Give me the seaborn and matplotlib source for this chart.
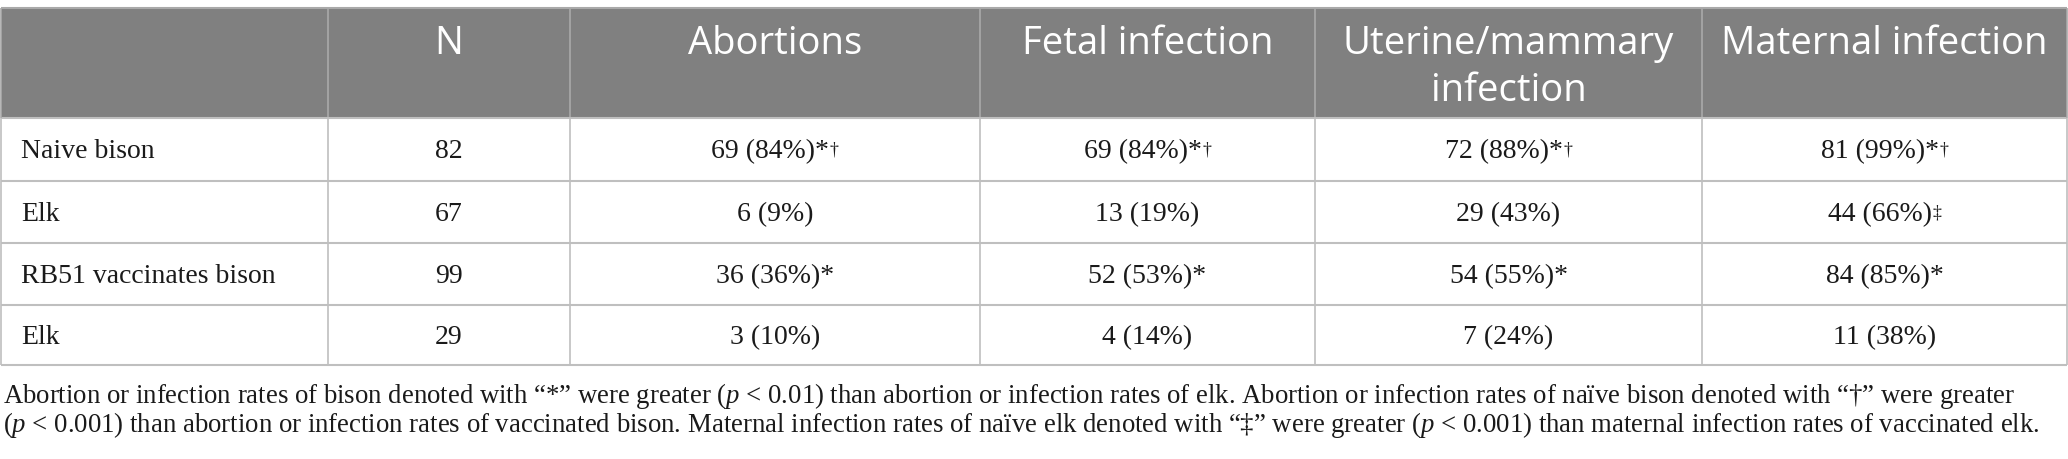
import matplotlib
matplotlib.use("Agg")
import matplotlib.pyplot as plt
import seaborn as sns

# ---------------- data ----------------
columns = ["", "N", "Abortions", "Fetal infection", "Uterine/mammary\ninfection", "Maternal infection"]
row_labels = ["Naive bison", "Elk", "RB51 vaccinates bison", "Elk"]
n_values = [82, 67, 99, 29]
abortion_counts = [69, 6, 36, 3]
abortion_pcts = [84, 9, 36, 10]
abortion_marks = ["*†", "", "*", ""]
fetal_counts = [69, 13, 52, 4]
fetal_pcts = [84, 19, 53, 14]
fetal_marks = ["*†", "", "*", ""]
uterine_counts = [72, 29, 54, 7]
uterine_pcts = [88, 43, 55, 24]
uterine_marks = ["*†", "", "*", ""]
maternal_counts = [81, 44, 84, 11]
maternal_pcts = [99, 66, 85, 38]
maternal_marks = ["*†", "‡", "*", ""]
caption_lines = [
    "Abortion or infection rates of bison denoted with \u201c*\u201d were greater ($p$ < 0.01) than abortion or infection rates of elk. "
    "Abortion or infection rates of na\u00efve bison denoted with \u201c\u2020\u201d were greater",
    "($p$ < 0.001) than abortion or infection rates of vaccinated bison. Maternal infection rates of na\u00efve elk denoted with "
    "\u201c\u2021\u201d were greater ($p$ < 0.001) than maternal infection rates of vaccinated elk.",
]

# ---------------- style ----------------
sns.set_theme(style="white")
plt.rcParams["font.family"] = ["Liberation Serif", "DejaVu Serif"]
plt.rcParams["mathtext.fontset"] = "custom"
plt.rcParams["mathtext.rm"] = "Liberation Serif"
plt.rcParams["mathtext.it"] = "Liberation Serif:italic"

W, H, DPI = 2068, 459, 100
HEADER_BG = "#808080"
GRID = "#bfbfbf"
HEADER_GRID = "#a9a9a9"
TEXT = "#1a1a1a"

col_edges = [1, 328, 570, 980, 1315, 1702, 2067]
row_edges = [8, 118, 181, 243, 305, 365]

fig = plt.figure(figsize=(W / DPI, H / DPI), dpi=DPI)
ax = fig.add_axes([0, 0, 1, 1])
ax.set_xlim(0, W)
ax.set_ylim(H, 0)
ax.axis("off")

# header background
ax.fill_between([col_edges[0], col_edges[-1]], row_edges[0], row_edges[1], color=HEADER_BG, lw=0, zorder=0)
ax.hlines(row_edges[0], col_edges[0], col_edges[-1], color=HEADER_GRID, lw=1.5, zorder=2)
ax.vlines(col_edges[1:-1], row_edges[0], row_edges[1], color=HEADER_GRID, lw=1.2, zorder=2)
# body grid
ax.hlines(row_edges[1:], col_edges[0], col_edges[-1], color=GRID, lw=1.5, zorder=2)
ax.vlines(col_edges, row_edges[1], row_edges[-1], color=GRID, lw=1.2, zorder=2)
ax.vlines([col_edges[0], col_edges[-1]], row_edges[0], row_edges[1], color=HEADER_GRID, lw=1.2, zorder=2)

# header text
for j, name in enumerate(columns):
    if not name:
        continue
    cx = (col_edges[j] + col_edges[j + 1]) / 2
    for k, line in enumerate(name.split("\n")):
        ax.text(cx, 54 + 47 * k, line, ha="center", va="baseline", color="white",
                fontsize=27.5, family=["Open Sans", "DejaVu Sans"])

BODY_FS = 20
SUP_FS = 13
renderer = fig.canvas.get_renderer()


def cell_text(cx, base, main, sup):
    t = ax.text(cx, base, main, ha="left", va="baseline", color=TEXT, fontsize=BODY_FS)
    parts = [t]
    if sup:
        s = ax.annotate(sup, xy=(1, 1), xycoords=t, xytext=(0.5, -1.5), textcoords="offset points",
                        ha="left", va="top", color=TEXT, fontsize=SUP_FS)
        parts.append(s)
    fig.canvas.draw()
    x0 = min(p.get_window_extent(renderer).x0 for p in parts)
    x1 = max(p.get_window_extent(renderer).x1 for p in parts)
    t.set_x(cx - (x1 - x0) / 2)


value_cols = [
    (abortion_counts, abortion_pcts, abortion_marks),
    (fetal_counts, fetal_pcts, fetal_marks),
    (uterine_counts, uterine_pcts, uterine_marks),
    (maternal_counts, maternal_pcts, maternal_marks),
]

for i, label in enumerate(row_labels):
    yc = (row_edges[i + 1] + row_edges[i + 2]) / 2
    base = yc + 9
    ax.text(21, base, label, ha="left", va="baseline", color=TEXT, fontsize=BODY_FS)
    cx = (col_edges[1] + col_edges[2]) / 2
    ax.text(cx, base, str(n_values[i]), ha="center", va="baseline", color=TEXT, fontsize=BODY_FS)
    for j, (counts, pcts, marks) in enumerate(value_cols):
        cx = (col_edges[j + 2] + col_edges[j + 3]) / 2
        mark = marks[i]
        main = f"{counts[i]} ({pcts[i]}%)"
        sup = ""
        if mark.startswith("*"):
            main += "*"
            sup = mark[1:]
        else:
            sup = mark
        cell_text(cx, base, main, sup)

# caption
for k, line in enumerate(caption_lines):
    ax.text(3, 403 + 29 * k, line, ha="left", va="baseline", color=TEXT, fontsize=19.3)

fig.savefig("out.png", dpi=DPI)
